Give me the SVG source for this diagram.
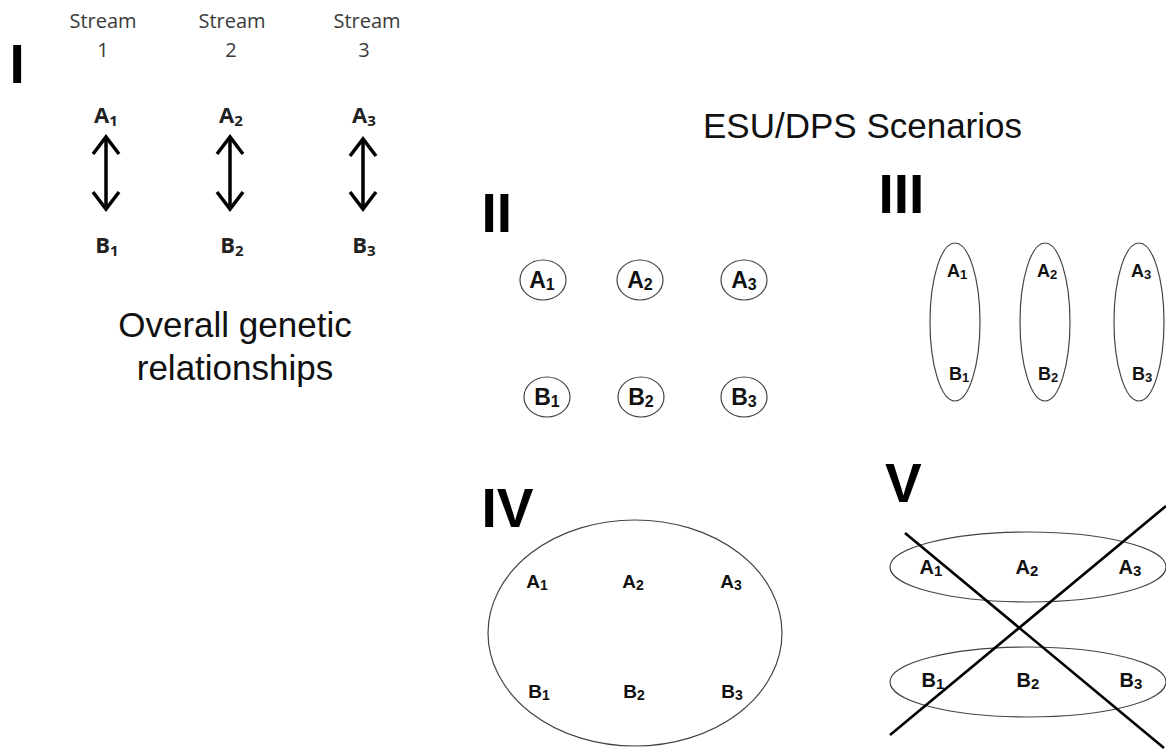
<svg xmlns="http://www.w3.org/2000/svg" width="1166" height="749" viewBox="0 0 1166 749">
<style>
.bg{fill:#fff}
.roman{font-family:"Liberation Sans",Arial,sans-serif;font-weight:bold;font-size:55px;fill:#000}
.title{font-family:"Liberation Sans",Arial,sans-serif;font-size:35px;fill:#111}
.stream{font-family:"Open Sans","DejaVu Sans",sans-serif;font-size:20px;fill:#3a3a3a;text-anchor:middle}
.lab1{font-family:"Open Sans","DejaVu Sans",sans-serif;font-weight:bold;font-size:22px;fill:#222;text-anchor:middle}
.lab{font-family:"Liberation Sans",Arial,sans-serif;font-weight:bold;fill:#111;text-anchor:middle}
.ring{fill:none;stroke:#444;stroke-width:1.2}
.arrow{fill:none;stroke:#000;stroke-width:3.5;stroke-linejoin:miter}
.cross{fill:none;stroke:#000;stroke-width:2.6}
</style>
<rect class="bg" x="0" y="0" width="1166" height="749"/>

<!-- Section I -->
<g id="section-I">
  <text class="roman" x="9.5" y="83">I</text>
  <g id="stream1"><text class="stream" x="103" y="28">Stream</text><text class="stream" x="103" y="57">1</text></g>
  <g id="stream2"><text class="stream" x="232" y="28">Stream</text><text class="stream" x="231" y="57">2</text></g>
  <g id="stream3"><text class="stream" x="367" y="28">Stream</text><text class="stream" x="364" y="57">3</text></g>
  <g id="I-A1"><text class="lab1" x="106" y="123">A<tspan font-size="15" dy="3">1</tspan></text></g>
  <g id="I-A2"><text class="lab1" x="231" y="123">A<tspan font-size="15" dy="3">2</tspan></text></g>
  <g id="I-A3"><text class="lab1" x="364" y="123">A<tspan font-size="15" dy="3">3</tspan></text></g>
  <g id="I-B1"><text class="lab1" x="107" y="253">B<tspan font-size="15" dy="3">1</tspan></text></g>
  <g id="I-B2"><text class="lab1" x="232" y="253">B<tspan font-size="15" dy="3">2</tspan></text></g>
  <g id="I-B3"><text class="lab1" x="364" y="253">B<tspan font-size="15" dy="3">3</tspan></text></g>
  <g id="overall-label">
    <text class="title" x="235" y="337" text-anchor="middle" font-size="36">Overall genetic</text>
    <text class="title" x="235" y="380" text-anchor="middle" font-size="36">relationships</text>
  </g>
</g>

<g id="connectors">
  <g id="arrow1">
    <line class="arrow" x1="106" y1="138" x2="106" y2="208"/>
    <polyline class="arrow" points="93,154 106,137 119,154"/>
    <polyline class="arrow" points="93,192 106,209 119,192"/>
  </g>
  <g id="arrow2">
    <line class="arrow" x1="230" y1="138" x2="230" y2="208"/>
    <polyline class="arrow" points="217,154 230,137 243,154"/>
    <polyline class="arrow" points="217,192 230,209 243,192"/>
  </g>
  <g id="arrow3">
    <line class="arrow" x1="363" y1="140" x2="363" y2="208"/>
    <polyline class="arrow" points="350,156 363,139 376,156"/>
    <polyline class="arrow" points="350,192 363,209 376,192"/>
  </g>
</g>

<g id="scenarios-title"><text class="title" x="703" y="138">ESU/DPS Scenarios</text></g>

<!-- Section II -->
<g id="section-II">
  <text class="roman" x="481.5" y="232">II</text>
  <g id="II-A1"><ellipse class="ring" cx="543" cy="280" rx="23" ry="20"/><text class="lab" font-size="23" x="542" y="288">A<tspan font-size="16" dy="2">1</tspan></text></g>
  <g id="II-A2"><ellipse class="ring" cx="640" cy="280" rx="23" ry="20"/><text class="lab" font-size="23" x="640" y="288">A<tspan font-size="16" dy="2">2</tspan></text></g>
  <g id="II-A3"><ellipse class="ring" cx="744" cy="280" rx="23" ry="20"/><text class="lab" font-size="23" x="744" y="288">A<tspan font-size="16" dy="2">3</tspan></text></g>
  <g id="II-B1"><ellipse class="ring" cx="547" cy="397" rx="23" ry="20"/><text class="lab" font-size="23" x="547" y="405">B<tspan font-size="16" dy="2">1</tspan></text></g>
  <g id="II-B2"><ellipse class="ring" cx="641" cy="397" rx="23" ry="20"/><text class="lab" font-size="23" x="641" y="405">B<tspan font-size="16" dy="2">2</tspan></text></g>
  <g id="II-B3"><ellipse class="ring" cx="744" cy="397" rx="23" ry="20"/><text class="lab" font-size="23" x="744" y="405">B<tspan font-size="16" dy="2">3</tspan></text></g>
</g>

<!-- Section III -->
<g id="section-III">
  <text class="roman" x="878.5" y="213">III</text>
  <g id="III-1"><ellipse class="ring" cx="955" cy="322" rx="25" ry="79"/>
    <text class="lab" font-size="18" x="957" y="277">A<tspan font-size="13" dy="2">1</tspan></text>
    <text class="lab" font-size="18" x="959" y="380">B<tspan font-size="13" dy="2">1</tspan></text></g>
  <g id="III-2"><ellipse class="ring" cx="1045" cy="322" rx="25" ry="79"/>
    <text class="lab" font-size="18" x="1047" y="277">A<tspan font-size="13" dy="2">2</tspan></text>
    <text class="lab" font-size="18" x="1048" y="380">B<tspan font-size="13" dy="2">2</tspan></text></g>
  <g id="III-3"><ellipse class="ring" cx="1139" cy="322" rx="25" ry="79"/>
    <text class="lab" font-size="18" x="1141" y="277">A<tspan font-size="13" dy="2">3</tspan></text>
    <text class="lab" font-size="18" x="1142" y="380">B<tspan font-size="13" dy="2">3</tspan></text></g>
</g>

<!-- Section IV -->
<g id="section-IV">
  <text class="roman" x="481.5" y="527">IV</text>
  <ellipse class="ring" cx="635" cy="633" rx="147" ry="113"/>
  <g id="IV-A1"><text class="lab" font-size="19" x="537" y="588">A<tspan font-size="14" dy="2">1</tspan></text></g>
  <g id="IV-A2"><text class="lab" font-size="19" x="633" y="588">A<tspan font-size="14" dy="2">2</tspan></text></g>
  <g id="IV-A3"><text class="lab" font-size="19" x="731" y="588">A<tspan font-size="14" dy="2">3</tspan></text></g>
  <g id="IV-B1"><text class="lab" font-size="19" x="539" y="698">B<tspan font-size="14" dy="2">1</tspan></text></g>
  <g id="IV-B2"><text class="lab" font-size="19" x="634" y="698">B<tspan font-size="14" dy="2">2</tspan></text></g>
  <g id="IV-B3"><text class="lab" font-size="19" x="732" y="698">B<tspan font-size="14" dy="2">3</tspan></text></g>
</g>

<!-- Section V -->
<g id="section-V">
  <text class="roman" x="885" y="502">V</text>
  <g id="V-A"><ellipse class="ring" cx="1028" cy="567" rx="138" ry="35"/>
    <text class="lab" font-size="20" x="931" y="574">A<tspan font-size="15" dy="2">1</tspan></text>
    <text class="lab" font-size="20" x="1027" y="574">A<tspan font-size="15" dy="2">2</tspan></text>
    <text class="lab" font-size="20" x="1130" y="574">A<tspan font-size="15" dy="2">3</tspan></text></g>
  <g id="V-B"><ellipse class="ring" cx="1028" cy="682" rx="138" ry="35"/>
    <text class="lab" font-size="20" x="933" y="687">B<tspan font-size="15" dy="2">1</tspan></text>
    <text class="lab" font-size="20" x="1028" y="687">B<tspan font-size="15" dy="2">2</tspan></text>
    <text class="lab" font-size="20" x="1131" y="687">B<tspan font-size="15" dy="2">3</tspan></text></g>
  <g id="V-cross">
    <line class="cross" x1="905" y1="533" x2="1164" y2="748"/>
    <line class="cross" x1="890" y1="735" x2="1166" y2="506"/>
  </g>
</g>
</svg>
